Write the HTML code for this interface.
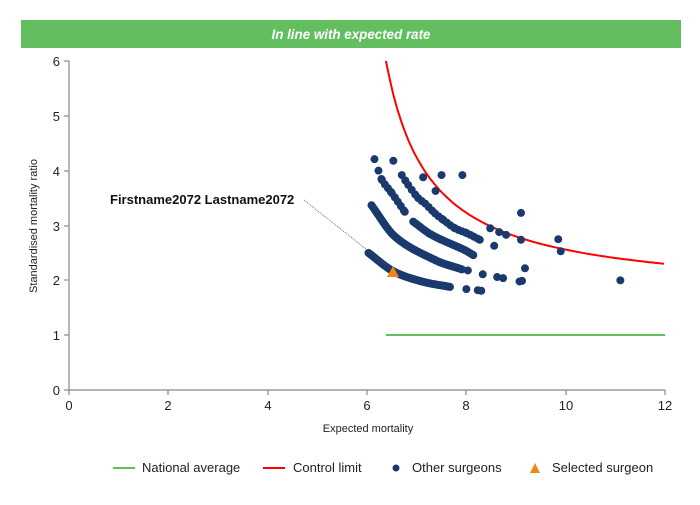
<!DOCTYPE html>
<html><head><meta charset="utf-8"><style>
body{margin:0;background:#fff;width:700px;height:500px;overflow:hidden;font-family:"Liberation Sans",sans-serif}
</style></head><body>
<svg id="s" width="700" height="500" xmlns="http://www.w3.org/2000/svg" font-family="Liberation Sans, sans-serif">
<rect x="21" y="20" width="660" height="28" fill="#63be5f"/>
<text x="351" y="39" fill="#fff" font-size="14" font-style="italic" font-weight="bold" text-anchor="middle" textLength="159" lengthAdjust="spacingAndGlyphs">In line with expected rate</text>
<g stroke="#888" stroke-width="1.2" fill="none">
<line x1="69" y1="61" x2="69" y2="390"/>
<line x1="69" y1="390" x2="665" y2="390"/>
<line x1="64" y1="61" x2="69" y2="61"/><line x1="64" y1="116" x2="69" y2="116"/><line x1="64" y1="171" x2="69" y2="171"/><line x1="64" y1="226" x2="69" y2="226"/><line x1="64" y1="280" x2="69" y2="280"/><line x1="64" y1="335" x2="69" y2="335"/><line x1="64" y1="390" x2="69" y2="390"/>
<line x1="69" y1="390" x2="69" y2="395"/><line x1="168" y1="390" x2="168" y2="395"/><line x1="268" y1="390" x2="268" y2="395"/><line x1="367" y1="390" x2="367" y2="395"/><line x1="466" y1="390" x2="466" y2="395"/><line x1="566" y1="390" x2="566" y2="395"/><line x1="665" y1="390" x2="665" y2="395"/>
</g>
<g font-size="13" fill="#222" text-anchor="end">
<text x="60" y="66">6</text><text x="60" y="121">5</text><text x="60" y="176">4</text><text x="60" y="231">3</text><text x="60" y="285">2</text><text x="60" y="340">1</text><text x="60" y="395">0</text>
</g>
<g font-size="13" fill="#222" text-anchor="middle">
<text x="69" y="410">0</text><text x="168" y="410">2</text><text x="268" y="410">4</text><text x="367" y="410">6</text><text x="466" y="410">8</text><text x="566" y="410">10</text><text x="665" y="410">12</text>
</g>
<text x="368" y="432" font-size="11" fill="#222" text-anchor="middle">Expected mortality</text>
<text transform="translate(37,226) rotate(-90)" font-size="11" fill="#222" text-anchor="middle">Standardised mortality ratio</text>
<line x1="386" y1="335" x2="665" y2="335" stroke="#63be5f" stroke-width="2"/>
<path id="cl" fill="none" stroke="#f00" stroke-width="2"/>
<g id="dots" fill="#1a3a6e"></g>
<polygon points="393,266 387,277 399,277" fill="#f0861a"/>
<line x1="304" y1="200" x2="390" y2="268" stroke="#555" stroke-width="0.8" stroke-dasharray="1,1"/>
<text x="110" y="204" font-size="13" font-weight="bold" fill="#111">Firstname2072 Lastname2072</text>
<line x1="113" y1="468" x2="135" y2="468" stroke="#63be5f" stroke-width="2"/>
<text x="142" y="472" font-size="13" fill="#222">National average</text>
<line x1="263" y1="468" x2="285" y2="468" stroke="#f00" stroke-width="2"/>
<text x="293" y="472" font-size="13" fill="#222">Control limit</text>
<circle cx="396" cy="468" r="3.5" fill="#1a3a6e"/>
<text x="412" y="472" font-size="13" fill="#222">Other surgeons</text>
<polygon points="535,463 530,473 540,473" fill="#f0861a"/>
<text x="552" y="472" font-size="13" fill="#222">Selected surgeon</text>
</svg>
<script>
var X=function(x){return 69+x*49.67},Y=function(y){return 390-y*54.83};
var d="";for(var x=6.38;x<=12.001;x+=0.05){var y=1.72+3.78/(x-5.5);d+=(d?"L":"M")+X(x).toFixed(1)+","+Y(Math.min(y,6)).toFixed(1);}
document.getElementById("cl").setAttribute("d",d);
var g=document.getElementById("dots"),h="";
function c(x,y){h+='<circle cx="'+X(x).toFixed(2)+'" cy="'+Y(y).toFixed(2)+'" r="4"/>';}
function band(p,st){var n=p.length,m=[];
for(var i=0;i<n;i++){var a=p[Math.max(0,i-1)],b=p[Math.min(n-1,i+1)];m.push((b[1]-a[1])/(b[0]-a[0]));}
for(var i=0;i<n-1;i++){var a=p[i],b=p[i+1],hh=b[0]-a[0];
for(var x=a[0];x<b[0]-1e-6;x+=st){var t=(x-a[0])/hh,t2=t*t,t3=t2*t;
var y=(2*t3-3*t2+1)*a[1]+(t3-2*t2+t)*hh*m[i]+(-2*t3+3*t2)*b[1]+(t3-t2)*hh*m[i+1];c(x,y);}}
var l=p[n-1];c(l[0],l[1]);}
band([[6.03,2.50],[6.52,2.17],[7.10,1.98],[7.67,1.88]],0.025);
band([[6.09,3.37],[6.56,2.80],[7.37,2.37],[7.91,2.20]],0.025);
band([[6.23,4.0],[6.30,3.83],[6.50,3.59],[6.76,3.25]],0.06);
band([[6.93,3.07],[7.30,2.83],[7.97,2.55],[8.14,2.46]],0.04);
band([[6.70,3.92],[6.83,3.74],[7.03,3.50],[7.17,3.40],[7.37,3.22],[7.54,3.10],[7.77,2.95],[8.01,2.86],[8.27,2.74]],0.07);
[[6.15,4.21],[6.53,4.18],[7.13,3.88],[7.50,3.92],[7.92,3.92],[7.38,3.63],[9.1,3.23],[8.48,2.95],[8.66,2.88],[8.8,2.83],[9.1,2.74],[8.56,2.63],[8.03,2.18],[8.33,2.11],[8.62,2.06],[8.74,2.04],[9.18,2.22],[9.12,1.99],[9.07,1.98],[8.0,1.84],[8.23,1.82],[8.3,1.81],[9.85,2.75],[9.9,2.53],[11.1,2.0]].forEach(function(p){c(p[0],p[1]);});
g.innerHTML=h;
</script>
</body></html>
